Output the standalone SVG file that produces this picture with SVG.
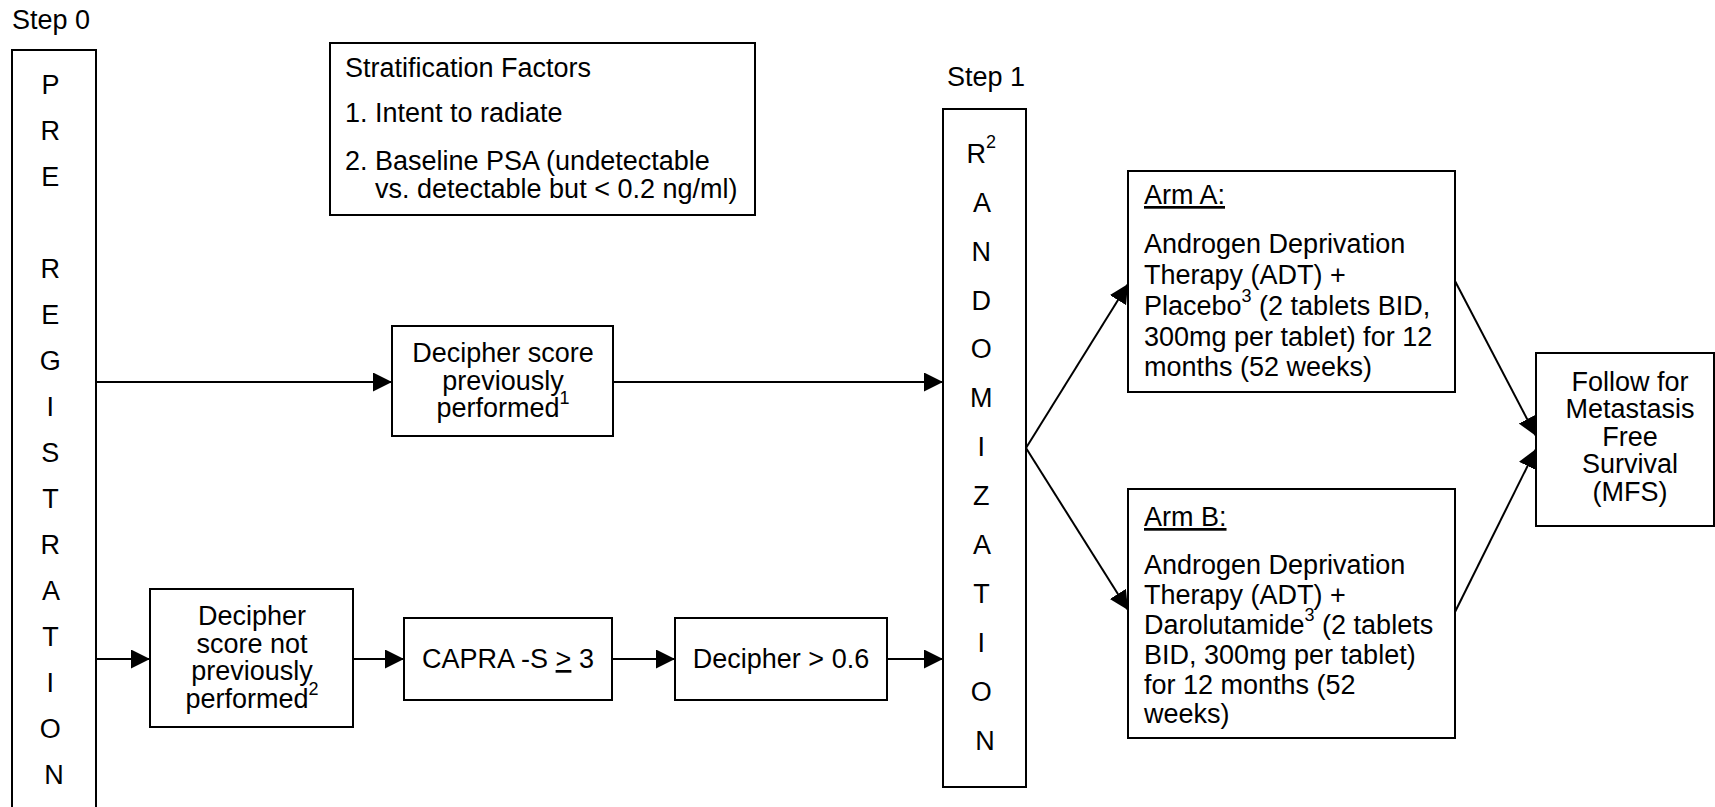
<svg xmlns="http://www.w3.org/2000/svg" width="1715" height="807" viewBox="0 0 1715 807">
<defs>
<style>
.box{fill:#fff;stroke:#000;stroke-width:2}
.t{font-family:"Liberation Sans",Arial,sans-serif;font-size:27px;fill:#000}
.c{text-anchor:middle}
.sup{font-size:18px}
.con{stroke:#000;stroke-width:2;fill:none;marker-end:url(#ah)}
</style>
<marker id="ah" markerUnits="userSpaceOnUse" markerWidth="20" markerHeight="20" refX="19" refY="9.5" orient="auto">
<path d="M0,0 L19,9.5 L0,19 z" fill="#000"/>
</marker>
</defs>
<rect width="1715" height="807" fill="#fff"/>

<g id="step0"><text class="t" x="12" y="29">Step 0</text></g>
<g id="step1"><text class="t" x="947" y="86">Step 1</text></g>

<g id="connectors">
<line class="con" x1="96" y1="382" x2="392" y2="382"/>
<line class="con" x1="613" y1="382" x2="943" y2="382"/>
<line class="con" x1="96" y1="659" x2="150" y2="659"/>
<line class="con" x1="353" y1="659" x2="404" y2="659"/>
<line class="con" x1="612" y1="659" x2="675" y2="659"/>
<line class="con" x1="887" y1="659" x2="943" y2="659"/>
<line class="con" x1="1026" y1="448" x2="1128" y2="284"/>
<line class="con" x1="1026" y1="448" x2="1128" y2="610"/>
<line class="con" x1="1455" y1="281" x2="1536" y2="436"/>
<line class="con" x1="1455" y1="612" x2="1536" y2="449"/>
</g>

<g id="preregistration">
<rect class="box" x="12" y="50" width="84" height="760"/>
<text class="t c" x="54">
<tspan x="54" y="93.5">P</tspan>
<tspan x="54" y="139.5">R</tspan>
<tspan x="54" y="185.5">E</tspan>
<tspan x="54" y="277.5">R</tspan>
<tspan x="54" y="323.5">E</tspan>
<tspan x="54" y="369.5">G</tspan>
<tspan x="54" y="415.5">I</tspan>
<tspan x="54" y="461.5">S</tspan>
<tspan x="54" y="507.5">T</tspan>
<tspan x="54" y="553.5">R</tspan>
<tspan x="54" y="599.5">A</tspan>
<tspan x="54" y="645.5">T</tspan>
<tspan x="54" y="691.5">I</tspan>
<tspan x="54" y="737.5">O</tspan>
<tspan x="54" y="783.5">N</tspan>
</text>
</g>

<g id="stratification">
<rect class="box" x="330" y="43" width="425" height="172"/>
<text class="t" x="345" y="77">Stratification Factors</text>
<text class="t" x="345" y="122">1.</text>
<text class="t" x="375" y="122">Intent to radiate</text>
<text class="t" x="345" y="170">2.</text>
<text class="t" x="375" y="170">Baseline PSA (undetectable</text>
<text class="t" x="375" y="198">vs. detectable but &lt; 0.2 ng/ml)</text>
</g>

<g id="decipher-prev">
<rect class="box" x="392" y="326" width="221" height="110"/>
<text class="t c" x="503" y="362">Decipher score</text>
<text class="t c" x="503" y="390">previously</text>
<text class="t c" x="503" y="417">performed<tspan class="sup" dy="-13">1</tspan></text>
</g>

<g id="decipher-not">
<rect class="box" x="150" y="589" width="203" height="138"/>
<text class="t c" x="252" y="625">Decipher</text>
<text class="t c" x="252" y="653">score not</text>
<text class="t c" x="252" y="680">previously</text>
<text class="t c" x="252" y="708">performed<tspan class="sup" dy="-13">2</tspan></text>
</g>

<g id="capra">
<rect class="box" x="404" y="618" width="208" height="82"/>
<text class="t c" x="508" y="668">CAPRA -S <tspan text-decoration="underline">&gt;</tspan> 3</text>
</g>

<g id="decipher-06">
<rect class="box" x="675" y="618" width="212" height="82"/>
<text class="t c" x="781" y="668">Decipher &gt; 0.6</text>
</g>

<g id="randomization">
<rect class="box" x="943" y="109" width="83" height="678"/>
<text class="t c">
<tspan x="985" y="163">R</tspan><tspan class="sup" dy="-15">2</tspan>
<tspan x="985" y="212">A</tspan>
<tspan x="985" y="261">N</tspan>
<tspan x="985" y="310">D</tspan>
<tspan x="985" y="358">O</tspan>
<tspan x="985" y="407">M</tspan>
<tspan x="985" y="456">I</tspan>
<tspan x="985" y="505">Z</tspan>
<tspan x="985" y="554">A</tspan>
<tspan x="985" y="603">T</tspan>
<tspan x="985" y="652">I</tspan>
<tspan x="985" y="701">O</tspan>
<tspan x="985" y="750">N</tspan>
</text>
</g>

<g id="arm-a">
<rect class="box" x="1128" y="171" width="327" height="221"/>
<text class="t" x="1144" y="204" text-decoration="underline">Arm A:</text>
<text class="t" x="1144" y="253">Androgen Deprivation</text>
<text class="t" x="1144" y="284">Therapy (ADT) +</text>
<text class="t" x="1144" y="315">Placebo<tspan class="sup" dy="-13">3</tspan><tspan dy="13"> (2 tablets BID,</tspan></text>
<text class="t" x="1144" y="346">300mg per tablet) for 12</text>
<text class="t" x="1144" y="376">months (52 weeks)</text>
</g>

<g id="arm-b">
<rect class="box" x="1128" y="489" width="327" height="249"/>
<text class="t" x="1144" y="526" text-decoration="underline">Arm B:</text>
<text class="t" x="1144" y="574">Androgen Deprivation</text>
<text class="t" x="1144" y="604">Therapy (ADT) +</text>
<text class="t" x="1144" y="634">Darolutamide<tspan class="sup" dy="-13">3</tspan><tspan dy="13"> (2 tablets</tspan></text>
<text class="t" x="1144" y="664">BID, 300mg per tablet)</text>
<text class="t" x="1144" y="694">for 12 months (52</text>
<text class="t" x="1144" y="723">weeks)</text>
</g>

<g id="mfs">
<rect class="box" x="1536" y="353" width="178" height="173"/>
<text class="t c" x="1630" y="391">Follow for</text>
<text class="t c" x="1630" y="418">Metastasis</text>
<text class="t c" x="1630" y="446">Free</text>
<text class="t c" x="1630" y="473">Survival</text>
<text class="t c" x="1630" y="501">(MFS)</text>
</g>
</svg>
